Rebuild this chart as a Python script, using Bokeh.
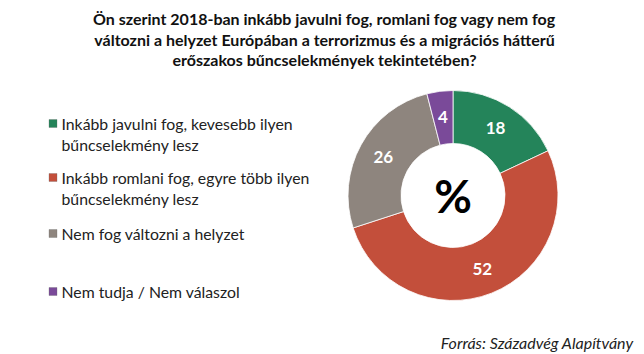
from bokeh.plotting import figure
from bokeh.models import Range1d, ColumnDataSource
from bokeh.core.properties import value
from bokeh.embed import file_html
from bokeh.resources import INLINE
import math

# ---- data ----
title_lines = [
    "Ön szerint 2018-ban inkább javulni fog, romlani fog vagy nem fog",
    "változni a helyzet Európában a terrorizmus és a migrációs hátterű",
    "erőszakos bűncselekmények tekintetében?",
]
categories = [
    "Inkább javulni fog, kevesebb ilyen\nbűncselekmény lesz",
    "Inkább romlani fog, egyre több ilyen\nbűncselekmény lesz",
    "Nem fog változni a helyzet",
    "Nem tudja / Nem válaszol",
]
values = [18, 52, 26, 4]
colors = ["#24845a", "#c34f3b", "#8e857e", "#7a4a99"]
source_text = "Forrás: Századvég Alapítvány"
center_text = "%"

W, H = 644, 354
FONT = "Lato"

p = figure(width=W, height=H, x_range=Range1d(0, W), y_range=Range1d(0, H),
           output_backend="svg", toolbar_location=None, min_border=0)
p.axis.visible = False
p.grid.visible = False
p.outline_line_color = None
p.background_fill_color = "white"
p.border_fill_color = "white"

def Y(ypix):
    return H - ypix

# title
for i, line in enumerate(title_lines):
    p.text(x=[324], y=[Y(18 + i * 20.5)], text=[line], text_align="center",
           text_baseline="middle", text_font=value(FONT), text_font_style="bold",
           text_font_size="16px", text_color="#111111")

# donut
cx, cy = 452.5, Y(195)
r_out, r_in = 105, 52
total = sum(values)
starts, ends, mids = [], [], []
acc = 0
for v in values:
    a0 = math.pi / 2 - acc / total * 2 * math.pi
    acc += v
    a1 = math.pi / 2 - acc / total * 2 * math.pi
    starts.append(a0)
    ends.append(a1)
    mids.append((a0 + a1) / 2)

src = ColumnDataSource(dict(start=starts, end=ends, color=colors))
p.annular_wedge(x=cx, y=cy, inner_radius=r_in, outer_radius=r_out,
                start_angle="start", end_angle="end", direction="clock",
                fill_color="color", line_color="white", line_width=0.8, source=src)

r_lab = (r_in + r_out) / 2 + 1
lx = [cx + r_lab * math.cos(m) for m in mids]
ly = [cy + r_lab * math.sin(m) for m in mids]
p.text(x=lx, y=ly, text=[str(v) for v in values], text_align="center",
       text_baseline="middle", text_font=value(FONT), text_font_style="bold",
       text_font_size="17px", text_color="white")

p.text(x=[cx], y=[cy], text=[center_text], text_align="center", text_baseline="middle",
       text_font=value(FONT), text_font_style="bold", text_font_size="46px",
       text_color="black")

# legend
leg_y = [123, 177, 233, 291]
sq = 8
for cat, col, yy in zip(categories, colors, leg_y):
    p.rect(x=[52.5], y=[Y(yy)], width=sq, height=sq, fill_color=col, line_color="#666666",
           line_width=0.3)
    for j, ln in enumerate(cat.split("\n")):
        p.text(x=[61], y=[Y(yy + j * 21)], text=[ln], text_align="left",
               text_baseline="middle", text_font=value(FONT), text_font_size="15.8px",
               text_color="#222222")

# source
p.text(x=[633], y=[Y(342)], text=[source_text], text_align="right", text_baseline="middle",
       text_font=value(FONT), text_font_style="italic", text_font_size="16px",
       text_color="#222222")

open("out.html", "w").write(file_html(p, INLINE))
